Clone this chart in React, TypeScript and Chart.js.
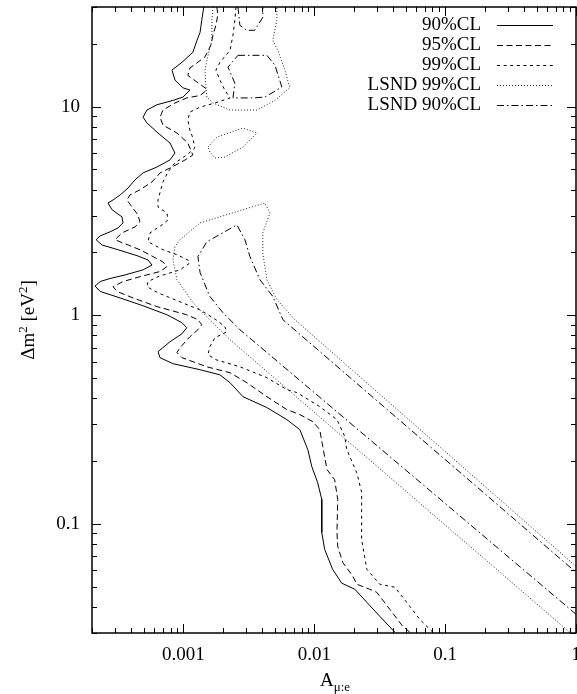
import React, { useEffect, useRef } from 'react';
import { Chart, registerables } from 'chart.js';
Chart.register(...registerables);

const X_MIN = 0.0002;
const X_MAX = 1;
const Y_MIN = 0.03;
const Y_MAX = 30;
const xTickValues = [0.001, 0.01, 0.1, 1];
const yTickValues = [0.1, 1, 10];
const seriesLabels = ['90%CL', '95%CL', '99%CL', 'LSND 99%CL', 'LSND 90%CL'];
const xTitleMain = 'A';
const xTitleSub = 'μ:e';

type P = [number, number];

const cl90: P[] = [
  [0.00143, 30], [0.00138, 25.9], [0.00134, 22.7], [0.00127, 20.8], [0.00118, 18.2], [0.000974, 16.3],
  [0.000817, 14.95], [0.000861, 13.4], [0.000991, 12.3], [0.00112, 12.0], [0.000991, 11.1], [0.000831, 10.7],
  [0.000627, 10.2], [0.000526, 9.62], [0.000491, 8.9], [0.000526, 8.34], [0.000639, 7.47], [0.000789, 6.69],
  [0.000861, 5.99], [0.000789, 5.55], [0.000627, 5.13], [0.000491, 4.81], [0.000426, 4.45], [0.000377, 4.07],
  [0.000328, 3.77], [0.00029, 3.57], [0.000265, 3.45], [0.000285, 3.2], [0.000339, 2.96], [0.000345, 2.77],
  [0.000316, 2.62], [0.000275, 2.51], [0.000231, 2.4], [0.000215, 2.3], [0.000239, 2.17], [0.000316, 2.06],
  [0.000441, 1.93], [0.000536, 1.84], [0.000575, 1.74], [0.000491, 1.65], [0.000358, 1.56], [0.000275, 1.5],
  [0.000231, 1.45], [0.000211, 1.38], [0.000231, 1.3], [0.000328, 1.21], [0.000491, 1.11], [0.000748, 1.005],
  [0.000974, 0.921], [0.00106, 0.871], [0.000974, 0.815], [0.000789, 0.746], [0.000639, 0.669], [0.000662, 0.626],
  [0.000831, 0.586], [0.00134, 0.548], [0.0019, 0.518], [0.00227, 0.475], [0.00285, 0.407], [0.00434, 0.361],
  [0.00617, 0.316], [0.00775, 0.283], [0.00892, 0.227], [0.00957, 0.188], [0.0106, 0.158], [0.0114, 0.131],
  [0.0114, 0.091], [0.012, 0.0755], [0.0138, 0.0606], [0.0162, 0.052], [0.0204, 0.0486], [0.0252, 0.0421],
  [0.0316, 0.0361], [0.0412, 0.0303],
];

const cl95: P[] = [
  [0.0018, 30], [0.00183, 27.4], [0.00177, 24.5], [0.00168, 22.0], [0.00162, 19.7], [0.00146, 17.3],
  [0.00127, 16.2], [0.00112, 15.3], [0.00108, 14.1], [0.00127, 13.1], [0.00146, 12.3], [0.00151, 12.0],
  [0.00134, 11.3], [0.00106, 11.0], [0.000861, 10.4], [0.000697, 9.62], [0.000662, 8.9], [0.000697, 8.15],
  [0.000892, 7.47], [0.00108, 6.69], [0.00118, 5.86], [0.00103, 5.55], [0.000817, 5.13], [0.000662, 4.81],
  [0.000575, 4.35], [0.000465, 3.99], [0.00039, 3.77], [0.00037, 3.57], [0.000404, 3.3], [0.000449, 3.03],
  [0.000465, 2.8], [0.000426, 2.65], [0.000339, 2.48], [0.0003, 2.3], [0.000345, 2.22], [0.000465, 2.06],
  [0.000585, 1.91], [0.000697, 1.8], [0.000748, 1.71], [0.000662, 1.62], [0.000465, 1.53], [0.000345, 1.45],
  [0.00029, 1.37], [0.000311, 1.3], [0.000412, 1.21], [0.000627, 1.1], [0.00106, 1.005], [0.00129, 0.952],
  [0.00138, 0.901], [0.00129, 0.852], [0.00112, 0.789], [0.00094, 0.698], [0.000892, 0.662], [0.000974, 0.626],
  [0.00151, 0.566], [0.00227, 0.53], [0.00305, 0.475], [0.00434, 0.407], [0.00617, 0.353], [0.00775, 0.334],
  [0.00974, 0.309], [0.011, 0.283], [0.0116, 0.235], [0.0125, 0.182], [0.0143, 0.163], [0.0151, 0.131],
  [0.0149, 0.091], [0.0151, 0.078], [0.0165, 0.0654], [0.0197, 0.0561], [0.0211, 0.0514], [0.0265, 0.0486],
  [0.03, 0.047], [0.0377, 0.039], [0.0474, 0.0323], [0.0536, 0.0303],
];

const cl99: P[] = [
  [0.00252, 30], [0.00247, 25.9], [0.00239, 22.0], [0.00227, 18.6], [0.0019, 16.3], [0.00177, 14.95],
  [0.0019, 13.4], [0.00207, 12.0], [0.00227, 11.0], [0.00174, 10.4], [0.00134, 9.94], [0.00112, 9.41],
  [0.00108, 8.62], [0.00112, 7.72], [0.00118, 7.07], [0.00122, 6.33], [0.00106, 5.86], [0.000861, 5.37],
  [0.000761, 4.86], [0.000697, 4.35], [0.000639, 3.57], [0.000639, 3.3], [0.000748, 3.09], [0.000761, 2.86],
  [0.000685, 2.71], [0.000555, 2.48], [0.000536, 2.25], [0.000697, 2.06], [0.000892, 1.95], [0.00108, 1.84],
  [0.00112, 1.78], [0.00094, 1.65], [0.000639, 1.53], [0.000536, 1.45], [0.000526, 1.37], [0.000639, 1.28],
  [0.00094, 1.16], [0.00134, 1.06], [0.00177, 0.952], [0.00207, 0.881], [0.00215, 0.833], [0.00174, 0.78],
  [0.00159, 0.706], [0.00154, 0.647], [0.00177, 0.612], [0.0027, 0.566], [0.00434, 0.502], [0.00617, 0.44],
  [0.00735, 0.426], [0.011, 0.365], [0.0149, 0.316], [0.0171, 0.262], [0.0177, 0.227], [0.0211, 0.176],
  [0.023, 0.142], [0.023, 0.0843], [0.0252, 0.0606], [0.0316, 0.0514], [0.0412, 0.0497], [0.0508, 0.0421],
  [0.0639, 0.0349], [0.0803, 0.0303],
];

const lsnd99Band: P[] = [
  [0.892, 0.0303], [0.00227, 0.763], [0.00159, 0.952], [0.00118, 1.15], [0.000892, 1.48], [0.000831, 1.84],
  [0.000861, 2.13], [0.00094, 2.3], [0.00134, 2.77], [0.00419, 3.45], [0.00458, 3.09], [0.00404, 2.48],
  [0.00404, 1.99], [0.00434, 1.48], [0.00517, 1.19], [0.0071, 0.952], [1.0, 0.0626],
];
const lsnd99Upper: P[] = [
  [0.00168, 30], [0.00165, 25.9], [0.00165, 20.8], [0.00154, 17.6], [0.00146, 14.95], [0.00148, 12.7],
  [0.00151, 11.1], [0.00168, 10.4], [0.00227, 9.62], [0.00364, 9.62], [0.005, 10.7], [0.0065, 12.3],
  [0.00595, 14.95], [0.00526, 18.6], [0.00482, 20.8], [0.00517, 25.9], [0.00517, 30],
];
const lsnd99Small: P[] = [
  [0.00154, 6.4], [0.0018, 7.14], [0.00285, 7.89], [0.00364, 7.47], [0.00285, 6.4], [0.00207, 5.73],
  [0.00174, 5.67], [0.00159, 6.06], [0.00154, 6.4],
];

const lsnd90Band: P[] = [
  [1.0, 0.0369], [0.00333, 0.763], [0.0027, 0.852], [0.002, 1.03], [0.00159, 1.23], [0.00134, 1.6],
  [0.00129, 1.91], [0.00151, 2.25], [0.00256, 2.71], [0.00295, 2.3], [0.00322, 1.91], [0.00384, 1.48],
  [0.00482, 1.23], [0.00575, 0.952], [1.0, 0.0586],
];
const lsnd90Top: P[] = [
  [0.00261, 30], [0.0027, 24.5], [0.00305, 23.2], [0.00351, 23.2], [0.00404, 26.8], [0.00404, 30],
];
const lsnd90Island: P[] = [
  [0.00261, 17.6], [0.00434, 17.6], [0.005, 15.8], [0.00565, 12.4], [0.00419, 11.1], [0.00333, 11.0],
  [0.00239, 11.0], [0.00247, 12.95], [0.00219, 15.45], [0.00261, 17.6],
];

const seriesData: P[][][] = [
  [cl90],
  [cl95],
  [cl99],
  [lsnd99Band, lsnd99Upper, lsnd99Small],
  [lsnd90Band, lsnd90Top, lsnd90Island],
];
const seriesDash: number[][] = [[], [6, 3.5], [3, 3.6], [1, 2], [7, 3, 1.5, 3]];
const seriesColor = ['#000', '#000', '#000', '#222', '#000'];

const SERIF = "'Liberation Serif', 'DejaVu Serif', 'Times New Roman', serif";
const FONT_SIZE = 19;
const SMALL_SIZE = 13;

function toPoints(segs: P[][]) {
  const out: { x: number | null; y: number | null }[] = [];
  segs.forEach((seg, i) => {
    if (i > 0) out.push({ x: null, y: null });
    seg.forEach(([x, y]) => out.push({ x, y }));
  });
  return out;
}

const decorPlugin = {
  id: 'decor',
  afterDraw(chart: any) {
    const { ctx, chartArea: a, scales } = chart;
    const xs = scales.x;
    const ys = scales.y;
    ctx.save();
    ctx.strokeStyle = '#000';
    ctx.lineWidth = 1;
    ctx.setLineDash([]);
    const seg = (x1: number, y1: number, x2: number, y2: number) => {
      ctx.beginPath();
      ctx.moveTo(x1, y1);
      ctx.lineTo(x2, y2);
      ctx.stroke();
    };
    for (let e = -4; e <= 0; e++) {
      for (let m = 1; m <= 9; m++) {
        const v = m * Math.pow(10, e);
        if (v < X_MIN * 0.999 || v > X_MAX * 1.001) continue;
        const len = m === 1 ? 9 : 5;
        const px = Math.round(xs.getPixelForValue(v)) + 0.5;
        seg(px, a.bottom, px, a.bottom - len);
        seg(px, a.top, px, a.top + len);
      }
    }
    for (let e = -2; e <= 1; e++) {
      for (let m = 1; m <= 9; m++) {
        const v = m * Math.pow(10, e);
        if (v < Y_MIN * 0.999 || v > Y_MAX * 1.001) continue;
        const len = m === 1 ? 9 : 5;
        const py = Math.round(ys.getPixelForValue(v)) + 0.5;
        seg(a.left, py, a.left + len, py);
        seg(a.right, py, a.right - len, py);
      }
    }
    ctx.lineWidth = 1.5;
    ctx.strokeRect(a.left, a.top, a.right - a.left, a.bottom - a.top);

    // legend
    ctx.fillStyle = '#000';
    ctx.font = `${FONT_SIZE}px ${SERIF}`;
    ctx.textAlign = 'right';
    ctx.textBaseline = 'middle';
    seriesLabels.forEach((label, i) => {
      const y = 25 + i * 20;
      ctx.fillText(label, 481, y);
      ctx.lineWidth = 1;
      ctx.strokeStyle = seriesColor[i];
      ctx.setLineDash(seriesDash[i]);
      seg(497, y + 0.5, 553, y + 0.5);
      ctx.setLineDash([]);
    });

    // x title with subscript
    ctx.textAlign = 'left';
    ctx.textBaseline = 'alphabetic';
    ctx.font = `${FONT_SIZE}px ${SERIF}`;
    const wA = ctx.measureText(xTitleMain).width;
    ctx.font = `${SMALL_SIZE}px ${SERIF}`;
    const wS = ctx.measureText(xTitleSub).width;
    const xc = (a.left + a.right) / 2 + 1;
    const x0 = xc - (wA + wS) / 2;
    ctx.font = `${FONT_SIZE}px ${SERIF}`;
    ctx.fillText(xTitleMain, x0, 686);
    ctx.font = `${SMALL_SIZE}px ${SERIF}`;
    ctx.fillText(xTitleSub, x0 + wA, 691);

    // y title with superscripts
    const parts: [string, boolean][] = [['Δm', false], ['2', true], [' [eV', false], ['2', true], [']', false]];
    const widths = parts.map(([t, sup]) => {
      ctx.font = `${sup ? SMALL_SIZE : FONT_SIZE}px ${SERIF}`;
      return ctx.measureText(t).width;
    });
    const total = widths.reduce((s, w) => s + w, 0);
    ctx.translate(28, (a.top + a.bottom) / 2);
    ctx.rotate(-Math.PI / 2);
    let cx = -total / 2;
    parts.forEach(([t, sup], i) => {
      ctx.font = `${sup ? SMALL_SIZE : FONT_SIZE}px ${SERIF}`;
      ctx.fillText(t, cx, sup ? -1 : 6);
      cx += widths[i];
    });
    ctx.restore();
  },
};

export default function App() {
  const ref = useRef<HTMLCanvasElement>(null);
  useEffect(() => {
    if (!ref.current) return;
    const tickFont = { family: SERIF, size: FONT_SIZE };
    const chart = new Chart(ref.current, {
      type: 'scatter',
      data: {
        datasets: seriesLabels.map((label, i) => ({
          label,
          data: toPoints(seriesData[i]) as any,
          showLine: true,
          borderColor: seriesColor[i],
          backgroundColor: seriesColor[i],
          borderWidth: 1,
          borderDash: seriesDash[i],
          pointRadius: 0,
          pointHoverRadius: 0,
          tension: 0,
          fill: false,
          spanGaps: false,
        })),
      },
      options: {
        responsive: false,
        animation: false,
        devicePixelRatio: 1,
        layout: { padding: { top: 7, right: 1, left: 0, bottom: 0 } },
        plugins: { legend: { display: false }, tooltip: { enabled: false } },
        scales: {
          x: {
            type: 'logarithmic',
            position: 'bottom',
            min: X_MIN,
            max: X_MAX,
            grid: { display: false, drawTicks: false },
            border: { display: false },
            ticks: {
              autoSkip: false,
              maxRotation: 0,
              padding: 11,
              color: '#000',
              font: tickFont,
              callback: (v: any) => String(Number(v)),
            },
            afterBuildTicks: (s: any) => {
              s.ticks = xTickValues.map((value) => ({ value }));
            },
            afterFit: (s: any) => {
              s.height = 61;
              s.paddingLeft = 0;
              s.paddingRight = 0;
            },
          },
          y: {
            type: 'logarithmic',
            position: 'left',
            min: Y_MIN,
            max: Y_MAX,
            grid: { display: false, drawTicks: false },
            border: { display: false },
            ticks: {
              autoSkip: false,
              padding: 12,
              color: '#000',
              font: tickFont,
              callback: (v: any) => String(Number(v)),
            },
            afterBuildTicks: (s: any) => {
              s.ticks = yTickValues.map((value) => ({ value }));
            },
            afterFit: (s: any) => {
              s.width = 92;
              s.paddingTop = 0;
              s.paddingBottom = 0;
            },
          },
        },
      } as any,
      plugins: [decorPlugin],
    });
    return () => chart.destroy();
  }, []);
  return (
    <div style={{ position: 'fixed', left: 0, top: 0, width: 577, height: 694, background: '#fff' }}>
      <canvas ref={ref} width={577} height={694} style={{ display: 'block', width: 577, height: 694 }} />
    </div>
  );
}
